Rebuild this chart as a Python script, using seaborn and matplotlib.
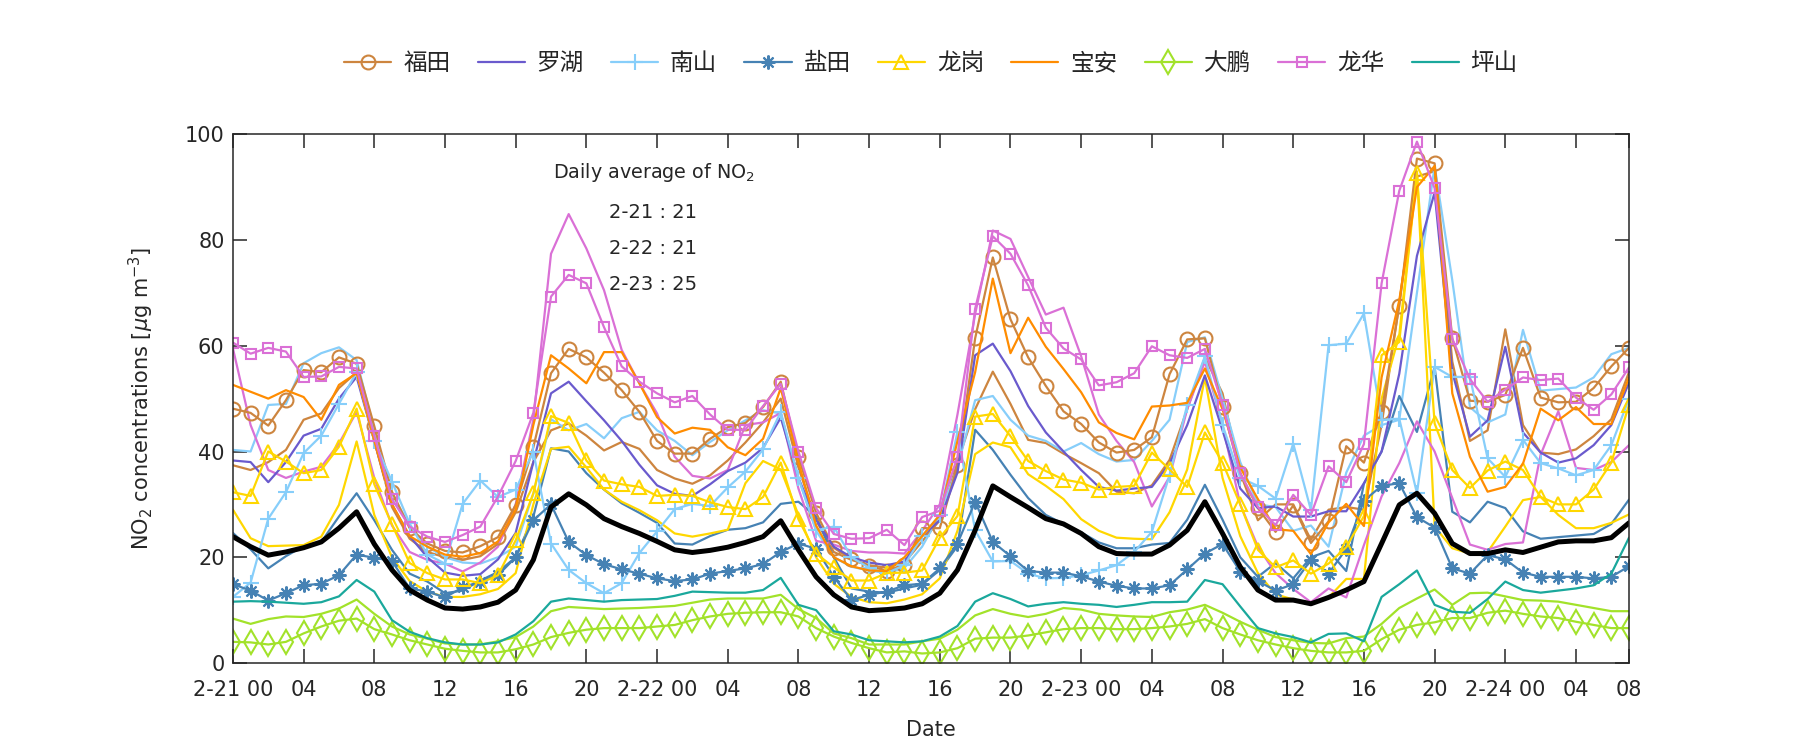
import numpy as np
import pandas as pd
import matplotlib
matplotlib.use("Agg")
import matplotlib.pyplot as plt
import seaborn as sns

hours = list(range(80))
tick_pos = [0, 4, 8, 12, 16, 20, 24, 28, 32, 36, 40, 44, 48, 52, 56, 60, 64, 68, 72, 76, 79]
tick_labels = ["2-21 00", "04", "08", "12", "16", "20", "2-22 00", "04", "08", "12", "16", "20",
               "2-23 00", "04", "08", "12", "16", "20", "2-24 00", "04", "08"]

futian = [48.1, 47.3, 44.9, 49.7, 55.4, 55.0, 57.8, 56.6, 44.8, 32.4,
          25.5, 22.6, 21.2, 20.9, 22.1, 23.8, 29.9, 40.8, 54.8, 59.4,
          57.8, 54.9, 51.6, 47.5, 42.0, 39.6, 39.6, 42.4, 44.6, 45.4,
          48.4, 53.2, 39.0, 28.4, 21.8, 19.6, 18.4, 17.4, 18.6, 25.5,
          25.5, 37.4, 61.4, 76.7, 65.0, 57.8, 52.4, 47.6, 45.2, 41.7,
          39.8, 40.3, 42.7, 54.6, 61.2, 61.4, 48.5, 35.9, 29.3, 24.8,
          29.8, 22.7, 26.8, 41.0, 37.9, 47.5, 67.5, 95.4, 94.5, 61.4,
          49.6, 49.4, 50.7, 59.6, 50.2, 49.3, 49.4, 52.0, 56.1, 59.6]
futian2 = [37.4, 36.5, 38.0, 40.3, 46.0, 47.2, 52.0, 55.0, 42.0, 29.5,
           23.5, 21.0, 20.0, 19.5, 20.2, 22.5, 28.5, 38.0, 44.0, 45.3,
           43.0, 40.2, 41.8, 40.5, 36.5, 34.9, 33.9, 35.5, 38.3, 41.7,
           45.5, 50.0, 37.0, 27.0, 21.0, 19.5, 18.5, 18.0, 19.0, 23.0,
           27.0, 38.0, 48.0, 55.1, 49.0, 42.2, 41.6, 39.6, 37.8, 35.9,
           32.4, 32.1, 33.6, 38.4, 48.0, 57.8, 51.0, 36.0, 27.0, 30.0,
           30.0, 23.3, 29.0, 29.5, 29.0, 45.0, 68.0, 92.0, 93.0, 57.0,
           42.0, 44.0, 63.1, 45.0, 39.8, 39.5, 40.4, 42.9, 46.1, 55.0]
luohu = [38.3, 38.0, 34.2, 38.0, 43.0, 44.3, 50.0, 54.1, 42.0, 30.0,
         24.0, 20.0, 17.1, 16.5, 16.8, 19.6, 24.6, 38.0, 51.0, 53.2,
         49.5, 45.9, 42.0, 37.5, 33.6, 32.0, 31.6, 33.8, 36.3, 37.9,
         40.7, 46.4, 35.0, 27.0, 22.0, 20.0, 19.0, 18.5, 19.2, 24.0,
         27.0, 36.0, 58.2, 60.4, 55.2, 48.6, 43.6, 40.0, 36.5, 33.3,
         32.6, 33.0, 33.3, 37.7, 45.0, 54.4, 44.0, 33.0, 29.3, 29.6,
         27.7, 27.7, 28.7, 28.7, 34.0, 40.0, 54.7, 77.0, 89.0, 55.0,
         42.8, 45.9, 59.8, 43.6, 39.8, 37.9, 38.7, 41.2, 45.0, 53.0]
nanshan = [12.5, 15.2, 27.3, 32.3, 39.7, 43.0, 49.0, 55.0, 42.0, 34.3,
           26.4, 20.5, 18.8, 30.1, 34.5, 31.4, 32.8, 40.0, 22.6, 17.6,
           15.1, 13.2, 15.1, 20.8, 24.9, 29.1, 30.1, 29.7, 33.2, 36.2,
           40.4, 47.5, 35.0, 25.1, 25.8, 20.0, 18.0, 17.0, 18.5, 24.0,
           28.0, 43.7, 25.1, 19.2, 19.3, 16.9, 16.0, 16.1, 16.6, 17.5,
           18.5, 21.0, 24.8, 35.5, 48.8, 58.0, 45.0, 35.0, 33.5, 31.1,
           41.5, 28.9, 60.1, 60.4, 66.1, 46.0, 46.2, 32.1, 56.0, 54.1,
           54.1, 38.7, 35.2, 42.2, 37.8, 36.8, 35.5, 36.5, 41.2, 50.0]
nanshan2 = [40.3, 40.0, 48.8, 49.0, 56.7, 58.6, 59.7, 57.3, 44.0, 32.0,
            26.0, 22.0, 20.0, 19.0, 18.8, 20.0, 22.0, 32.0, 46.1, 44.0,
            45.2, 42.5, 46.3, 47.5, 44.0, 42.0, 39.3, 41.8, 44.0, 45.9,
            47.8, 47.2, 35.0, 25.0, 20.0, 18.2, 17.5, 17.0, 18.0, 22.0,
            28.0, 37.0, 49.7, 50.5, 46.0, 43.0, 42.0, 40.0, 41.6, 39.5,
            38.1, 38.4, 42.0, 46.0, 60.7, 61.6, 50.0, 38.0, 30.0, 29.5,
            25.0, 26.0, 22.0, 36.0, 43.0, 45.0, 46.0, 70.0, 94.0, 72.4,
            48.4, 45.5, 47.0, 63.0, 51.5, 51.8, 52.1, 54.0, 58.4, 59.6]
yantian = [14.9, 13.7, 11.8, 13.2, 14.7, 15.0, 16.6, 20.5, 19.9, 19.3,
           14.1, 13.5, 12.4, 14.3, 15.4, 16.6, 20.0, 27.0, 30.0, 22.9,
           20.4, 18.7, 17.7, 16.9, 16.0, 15.5, 15.8, 16.9, 17.4, 17.9,
           18.7, 21.0, 22.6, 21.6, 16.3, 11.9, 12.9, 13.5, 14.7, 15.0,
           17.9, 22.6, 30.5, 22.9, 20.2, 17.4, 17.1, 17.1, 16.4, 15.4,
           14.6, 14.1, 14.1, 14.7, 17.7, 20.7, 22.5, 17.3, 15.5, 13.7,
           14.9, 19.5, 16.9, 21.6, 30.7, 33.5, 34.0, 27.6, 25.6, 17.9,
           16.9, 20.4, 19.6, 17.1, 16.3, 16.3, 16.3, 16.0, 16.3, 18.3]
yantian2 = [24.6, 21.5, 17.9, 20.2, 22.1, 22.9, 27.7, 32.1, 27.0, 21.4,
            16.9, 15.4, 13.2, 13.7, 15.6, 17.2, 20.0, 27.7, 40.6, 40.0,
            35.9, 32.8, 30.2, 28.4, 26.5, 22.6, 22.4, 24.0, 25.2, 25.5,
            26.6, 30.1, 30.5, 27.7, 20.0, 14.1, 13.5, 13.3, 14.1, 14.8,
            17.6, 22.1, 44.1, 40.3, 35.6, 31.2, 28.0, 26.3, 24.7, 22.8,
            21.7, 21.7, 22.4, 22.7, 27.1, 33.7, 27.1, 20.0, 16.3, 18.9,
            16.0, 20.0, 21.2, 17.4, 33.9, 40.0, 50.5, 43.7, 56.0, 28.6,
            26.6, 30.5, 29.3, 24.9, 23.5, 23.8, 24.1, 24.4, 26.3, 30.9]
longgang = [32.3, 31.6, 40.0, 38.1, 35.9, 36.5, 40.9, 48.1, 33.8, 26.2,
            18.9, 17.0, 15.8, 15.8, 15.1, 16.6, 23.2, 32.1, 46.7, 45.4,
            38.3, 34.5, 33.8, 33.3, 31.6, 31.8, 31.6, 30.4, 29.5, 29.1,
            31.4, 37.9, 27.2, 20.7, 18.1, 15.6, 15.6, 17.0, 17.1, 17.5,
            23.7, 27.8, 46.6, 47.1, 42.9, 38.2, 36.3, 34.7, 34.1, 32.8,
            33.3, 33.5, 39.8, 36.6, 33.3, 43.6, 37.9, 30.0, 21.4, 18.1,
            19.4, 16.9, 18.8, 21.9, 27.8, 58.2, 60.7, 92.6, 45.3, 36.5,
            33.1, 36.4, 38.1, 36.5, 31.4, 30.0, 30.0, 32.8, 37.9, 48.8]
longgang2 = [29.0, 23.6, 22.1, 22.2, 22.3, 23.9, 29.9, 41.9, 28.0, 20.0,
             15.5, 13.5, 12.5, 12.5, 13.0, 14.0, 17.0, 30.0, 40.5, 40.9,
             37.0, 32.8, 30.5, 28.9, 27.0, 24.5, 23.9, 24.5, 25.2, 34.0,
             38.2, 36.6, 28.0, 20.0, 15.0, 12.5, 11.5, 11.3, 12.0, 13.0,
             16.0, 25.0, 39.5, 41.7, 40.8, 35.7, 33.5, 31.0, 27.2, 25.0,
             23.7, 23.5, 23.4, 28.5, 36.6, 54.0, 35.0, 24.0, 17.0, 13.0,
             12.0, 11.2, 12.4, 15.9, 15.9, 50.0, 62.0, 93.0, 25.8, 21.7,
             20.7, 21.0, 25.8, 30.8, 31.4, 28.0, 25.5, 25.5, 26.5, 28.1]
baoan = [52.6, 51.3, 50.0, 51.6, 50.3, 46.0, 52.6, 54.8, 42.0, 30.0,
         24.0, 22.0, 20.5, 20.1, 20.8, 23.0, 29.0, 45.0, 58.2, 55.7,
         52.9, 58.8, 58.8, 52.9, 46.5, 43.4, 44.5, 44.1, 40.8, 39.3,
         42.4, 52.0, 38.0, 26.0, 20.0, 18.3, 17.5, 17.4, 20.0, 24.0,
         28.0, 42.0, 55.0, 72.7, 58.6, 65.3, 59.8, 55.6, 51.2, 45.5,
         43.5, 42.3, 48.5, 48.7, 49.2, 55.7, 48.0, 37.0, 31.0, 25.3,
         25.0, 20.6, 26.6, 30.1, 25.9, 54.0, 68.6, 90.0, 94.0, 51.0,
         39.0, 32.4, 33.3, 37.7, 48.1, 45.9, 48.4, 45.2, 45.2, 54.0]
dapeng = [4.0, 3.9, 3.5, 4.0, 5.6, 6.9, 8.0, 8.4, 6.4, 5.4,
          4.3, 3.5, 2.7, 2.3, 2.0, 2.0, 2.6, 3.5, 4.9, 5.7,
          6.3, 6.6, 6.6, 6.6, 6.9, 7.2, 8.1, 8.8, 9.3, 9.5,
          9.6, 9.6, 8.8, 6.6, 5.0, 3.8, 2.8, 2.0, 2.2, 1.8,
          2.0, 2.8, 4.6, 4.8, 4.8, 5.2, 5.8, 6.4, 6.6, 6.6,
          6.4, 6.4, 6.6, 6.9, 7.4, 8.3, 6.6, 5.4, 4.3, 3.5,
          2.8, 2.3, 2.0, 2.0, 2.3, 4.5, 6.3, 7.2, 7.7, 8.5,
          8.5, 9.5, 9.9, 9.3, 8.8, 8.5, 7.8, 7.2, 6.6, 6.6]
dapeng2 = [8.4, 7.4, 8.3, 8.8, 8.7, 9.3, 10.3, 12.0, 9.3, 6.9,
           5.4, 4.6, 3.7, 3.5, 3.5, 4.1, 4.9, 6.9, 9.8, 10.6,
           10.4, 10.2, 10.3, 10.4, 10.6, 10.8, 11.4, 12.0, 12.2, 12.2,
           12.2, 12.9, 10.2, 8.5, 5.6, 4.7, 3.5, 3.5, 3.5, 4.1,
           4.6, 6.3, 9.0, 10.2, 9.3, 8.7, 9.3, 10.4, 10.1, 9.3,
           9.0, 8.8, 8.7, 9.6, 10.1, 11.0, 9.5, 7.8, 6.3, 4.9,
           4.3, 3.8, 3.7, 4.7, 5.0, 7.4, 10.4, 12.2, 13.9, 11.0,
           13.2, 13.3, 12.6, 11.9, 11.8, 11.6, 11.0, 10.4, 9.8, 9.8]
longhua = [60.6, 58.5, 59.6, 58.9, 54.1, 54.2, 56.0, 55.7, 43.0, 31.0,
           25.8, 23.9, 22.9, 24.2, 25.8, 31.5, 38.2, 47.3, 69.3, 73.4,
           71.8, 63.5, 56.1, 53.2, 51.0, 49.3, 50.5, 47.0, 44.1, 44.1,
           48.6, 52.8, 40.0, 29.3, 24.4, 23.5, 23.6, 25.2, 22.3, 27.6,
           28.8, 39.0, 67.0, 80.7, 77.4, 71.4, 63.4, 59.5, 57.4, 52.5,
           53.1, 54.8, 59.9, 58.2, 57.7, 59.4, 48.8, 35.9, 29.5, 26.1,
           31.8, 28.0, 37.2, 34.2, 41.4, 71.8, 89.3, 98.6, 89.8, 61.3,
           53.7, 49.4, 51.7, 54.0, 53.5, 53.8, 50.2, 47.9, 50.8, 55.9]
longhua2 = [59.5, 45.0, 36.5, 35.0, 36.2, 37.1, 41.5, 47.5, 35.0, 26.0,
            21.0, 19.5, 18.8, 17.3, 19.0, 22.0, 30.0, 46.0, 77.4, 84.9,
            78.4, 70.5, 59.2, 52.9, 47.2, 39.0, 35.4, 34.9, 36.5, 45.0,
            45.5, 47.3, 33.0, 23.1, 22.4, 21.2, 20.9, 20.9, 20.7, 25.0,
            30.0, 47.0, 66.0, 81.8, 80.2, 73.0, 65.9, 67.2, 58.0, 47.0,
            42.0, 38.0, 29.6, 35.2, 48.0, 57.0, 45.0, 30.0, 22.0, 17.0,
            14.0, 11.5, 14.1, 12.4, 22.3, 31.5, 37.8, 45.7, 40.0, 31.2,
            22.4, 21.4, 22.5, 22.8, 39.4, 47.6, 36.9, 36.5, 38.0, 41.2]
pingshan = [11.6, 11.7, 11.6, 11.4, 11.2, 11.5, 12.6, 15.7, 13.5, 8.1,
            5.9, 4.7, 3.9, 3.5, 3.5, 3.9, 5.4, 7.9, 11.6, 12.2,
            11.9, 11.6, 11.9, 12.0, 12.1, 12.7, 13.5, 13.4, 13.3, 13.3,
            13.8, 16.1, 11.0, 10.0, 6.0, 5.4, 4.3, 4.1, 3.9, 4.1,
            5.0, 7.0, 11.6, 13.2, 12.1, 10.7, 11.2, 11.5, 11.2, 11.0,
            10.6, 11.0, 11.5, 11.5, 11.6, 15.7, 14.9, 10.7, 6.6, 5.6,
            4.9, 3.9, 5.5, 5.6, 4.1, 12.5, 14.9, 17.5, 11.0, 9.7,
            9.5, 12.1, 15.4, 13.8, 13.3, 13.7, 14.1, 14.7, 16.9, 23.7]
average = [23.9, 22.0, 20.4, 21.0, 21.8, 22.9, 25.5, 28.6, 22.5, 17.6,
           13.8, 11.9, 10.4, 10.2, 10.6, 11.5, 13.8, 19.5, 29.5, 32.0,
           29.9, 27.3, 25.8, 24.5, 23.0, 21.4, 20.9, 21.3, 21.9, 22.8,
           23.9, 26.9, 21.4, 16.3, 12.9, 10.6, 9.9, 10.1, 10.4, 11.2,
           13.2, 17.6, 25.1, 33.5, 31.4, 29.4, 27.3, 26.3, 24.5, 22.0,
           20.7, 20.6, 20.6, 22.3, 25.1, 30.5, 24.5, 18.2, 13.8, 11.9,
           11.9, 11.2, 12.4, 13.8, 15.4, 22.6, 29.9, 32.1, 28.3, 22.6,
           20.7, 20.7, 21.4, 20.9, 21.9, 22.9, 23.1, 23.1, 23.7, 26.5]

district_names = ["福田", "罗湖", "南山", "盐田", "龙岗", "宝安", "大鹏", "龙华", "坪山"]
daily_days = ["2-21", "2-22", "2-23"]
daily_means = [21, 21, 25]

colors = {"福田": "#CD853F", "罗湖": "#6A5ACD", "南山": "#87CEFA", "盐田": "#4682B4",
          "龙岗": "#FFD700", "宝安": "#FF8C00", "大鹏": "#A2E22A", "龙华": "#DA70D6",
          "坪山": "#1AA89C"}
markers = {"福田": ("o", 10), "南山": ("+", 11), "盐田": ((8, 2, 0), 10), "龙岗": ("^", 10),
           "大鹏": ("d", 12), "龙华": ("s", 7)}

sns.set_style("ticks")
plt.rcParams["font.family"] = ["DejaVu Sans", "Noto Sans CJK SC"]
plt.rcParams["mathtext.fontset"] = "dejavusans"

fig = plt.figure(figsize=(18, 7.5), dpi=100)
ax = fig.add_axes([0.1294, 0.116, 0.7756, 0.705])

# secondary stations (no markers)
secondary = [("福田", futian2), ("南山", nanshan2), ("盐田", yantian2), ("龙岗", longgang2),
             ("大鹏", dapeng2), ("龙华", longhua2)]
for name, vals in secondary:
    sns.lineplot(x=hours, y=vals, color=colors[name], linewidth=1.6, ax=ax,
                 legend=False, errorbar=None)

primary = [("福田", futian), ("罗湖", luohu), ("南山", nanshan), ("盐田", yantian),
           ("龙岗", longgang), ("宝安", baoan), ("大鹏", dapeng), ("龙华", longhua),
           ("坪山", pingshan)]
for name, vals in primary:
    kw = dict(color=colors[name], linewidth=1.6, ax=ax, errorbar=None, label=name)
    if name in markers:
        m, ms = markers[name]
        kw.update(marker=m, markersize=ms, markerfacecolor="none",
                  markeredgecolor=colors[name], markeredgewidth=1.5)
    sns.lineplot(x=hours, y=vals, **kw)

sns.lineplot(x=hours, y=average, color="black", linewidth=3.6, ax=ax, legend=False,
             errorbar=None)

ax.set_xlim(0, 79)
ax.set_ylim(0, 100)
ax.set_xticks(tick_pos)
ax.set_xticklabels(tick_labels)
ax.set_yticks([0, 20, 40, 60, 80, 100])
ax.tick_params(direction="in", top=True, right=True, length=10, width=1.1,
               labelsize=15, colors="#262626")
ax.tick_params(axis="x", pad=12)
ax.tick_params(axis="y", pad=6)
for s in ax.spines.values():
    s.set_linewidth(1.1)
    s.set_color("#262626")
ax.set_xlabel("Date", fontsize=15, labelpad=15)
ax.set_ylabel(r"NO$_2$ concentrations [$\mu$g m$^{-3}$]", fontsize=15, labelpad=21)

ax.text(18.1, 92.8, "Daily average of NO$_2$", fontsize=13.8, va="center", ha="left")
for k, (d, v) in enumerate(zip(daily_days, daily_means)):
    ax.text(21.3, 85.2 - 6.8 * k, f"{d} : {v}", fontsize=14, va="center", ha="left")

handles, labels = ax.get_legend_handles_labels()
hmap = dict(zip(labels, handles))
ax.legend([hmap[n] for n in district_names], district_names, loc="center",
          bbox_to_anchor=(0.5, 1.135), ncol=9, frameon=False, fontsize=17,
          handlelength=2.0, columnspacing=1.15, handletextpad=0.5)

fig.savefig("out.png", dpi=100)
